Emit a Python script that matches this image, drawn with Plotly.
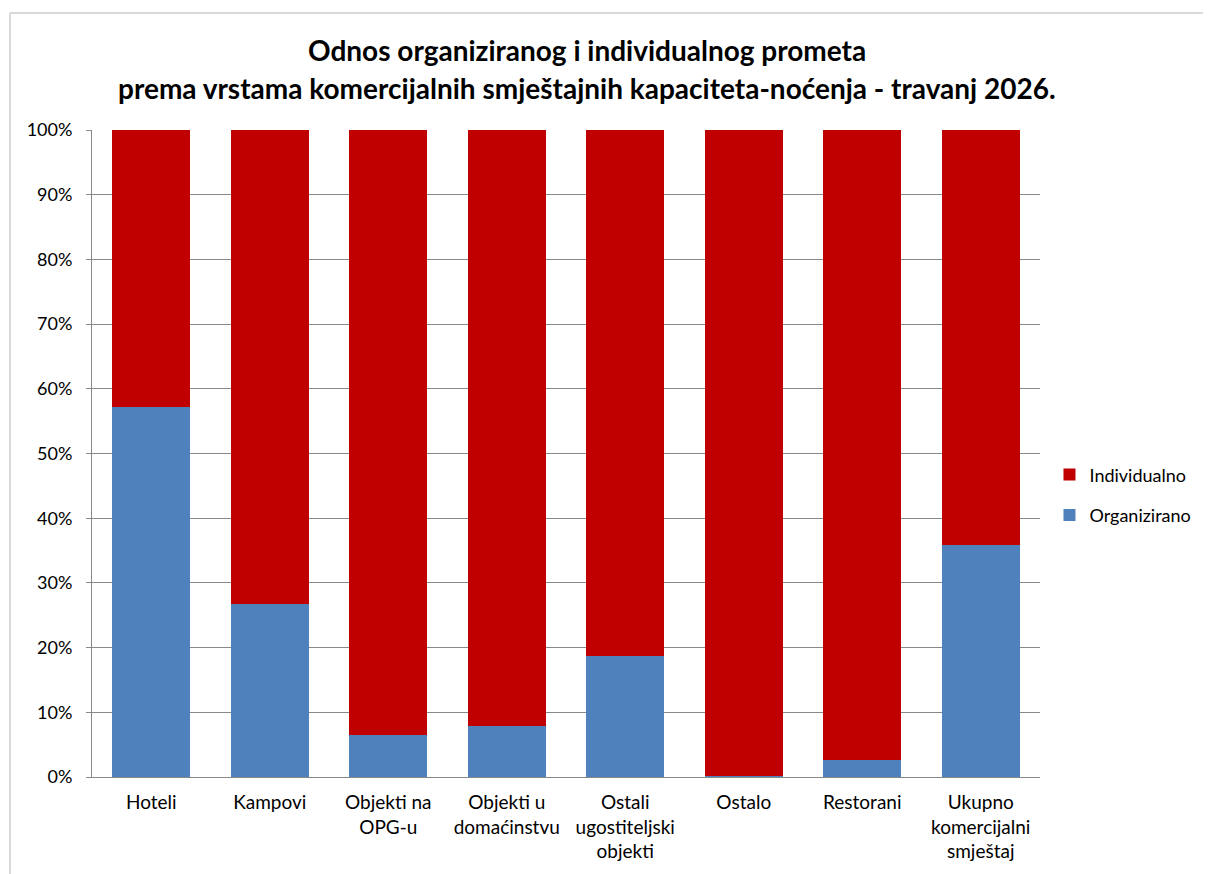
import plotly.graph_objects as go

# ── Data ────────────────────────────────────────────────
categories = [
    "Hoteli", "Kampovi", "Objekti na<br>OPG-u", "Objekti u<br>domaćinstvu",
    "Ostali<br>ugostiteljski<br>objekti", "Ostalo", "Restorani",
    "Ukupno<br>komercijalni<br>smještaj",
]
organizirano = [57.2, 26.8, 6.5, 7.9, 18.7, 0.1, 2.6, 35.9]
individualno = [100 - v for v in organizirano]
title_lines = [
    "Odnos organiziranog i individualnog prometa",
    "prema vrstama komercijalnih smještajnih kapaciteta-noćenja - travanj 2026.",
]

RED = "#C00000"
BLUE = "#4F81BD"
GRID = "#888888"
FONT = "Lato"

fig = go.Figure()
fig.add_trace(go.Bar(x=categories, y=organizirano, name="Organizirano",
                     legendgroup="org", legendrank=2,
                     marker=dict(color=BLUE, line=dict(width=0))))
fig.add_trace(go.Bar(x=categories, y=individualno, name="Individualno",
                     legendgroup="ind", legendrank=1,
                     marker=dict(color=RED, line=dict(width=0))))

fig.update_layout(
    width=1211, height=874,
    barmode="stack", bargap=0.34,
    paper_bgcolor="white", plot_bgcolor="white",
    margin=dict(l=84, r=179, t=122, b=105),
    font=dict(family=FONT, size=18, color="#000000"),
    xaxis=dict(showline=True, linecolor=GRID, linewidth=1,
               tickfont=dict(size=19), ticks="", ticklabelstandoff=8),
    yaxis=dict(range=[0, 100], dtick=10, ticksuffix="%",
               showgrid=True, gridcolor=GRID, gridwidth=1,
               showline=True, linecolor=GRID, linewidth=1,
               ticks="outside", ticklen=5, tickcolor=GRID,
               ticklabelstandoff=10,
               tickfont=dict(size=18), zeroline=False),
    legend=dict(x=1.01, y=0.436, yanchor="middle", xanchor="left",
                traceorder="grouped", font=dict(size=18),
                tracegroupgap=14),
    showlegend=True,
)

# two-line bold title
for text, ypos in zip(title_lines, [1.1236, 1.065]):
    fig.add_annotation(text="<b>" + text + "</b>", xref="paper", yref="paper",
                       x=0.522, y=ypos, xanchor="center", yanchor="middle",
                       showarrow=False,
                       font=dict(family=FONT, size=28, color="#000000"))

# outer chart border (top and left edges are the only ones in view)
border = dict(color="#D9D9D9", width=2)
fig.add_shape(type="line", xref="paper", yref="paper",
              x0=-0.0865, x1=1.25, y0=1.181, y1=1.181, line=border)
fig.add_shape(type="line", xref="paper", yref="paper",
              x0=-0.0865, x1=-0.0865, y0=-0.2, y1=1.181, line=border)

fig.write_html("out.html")
